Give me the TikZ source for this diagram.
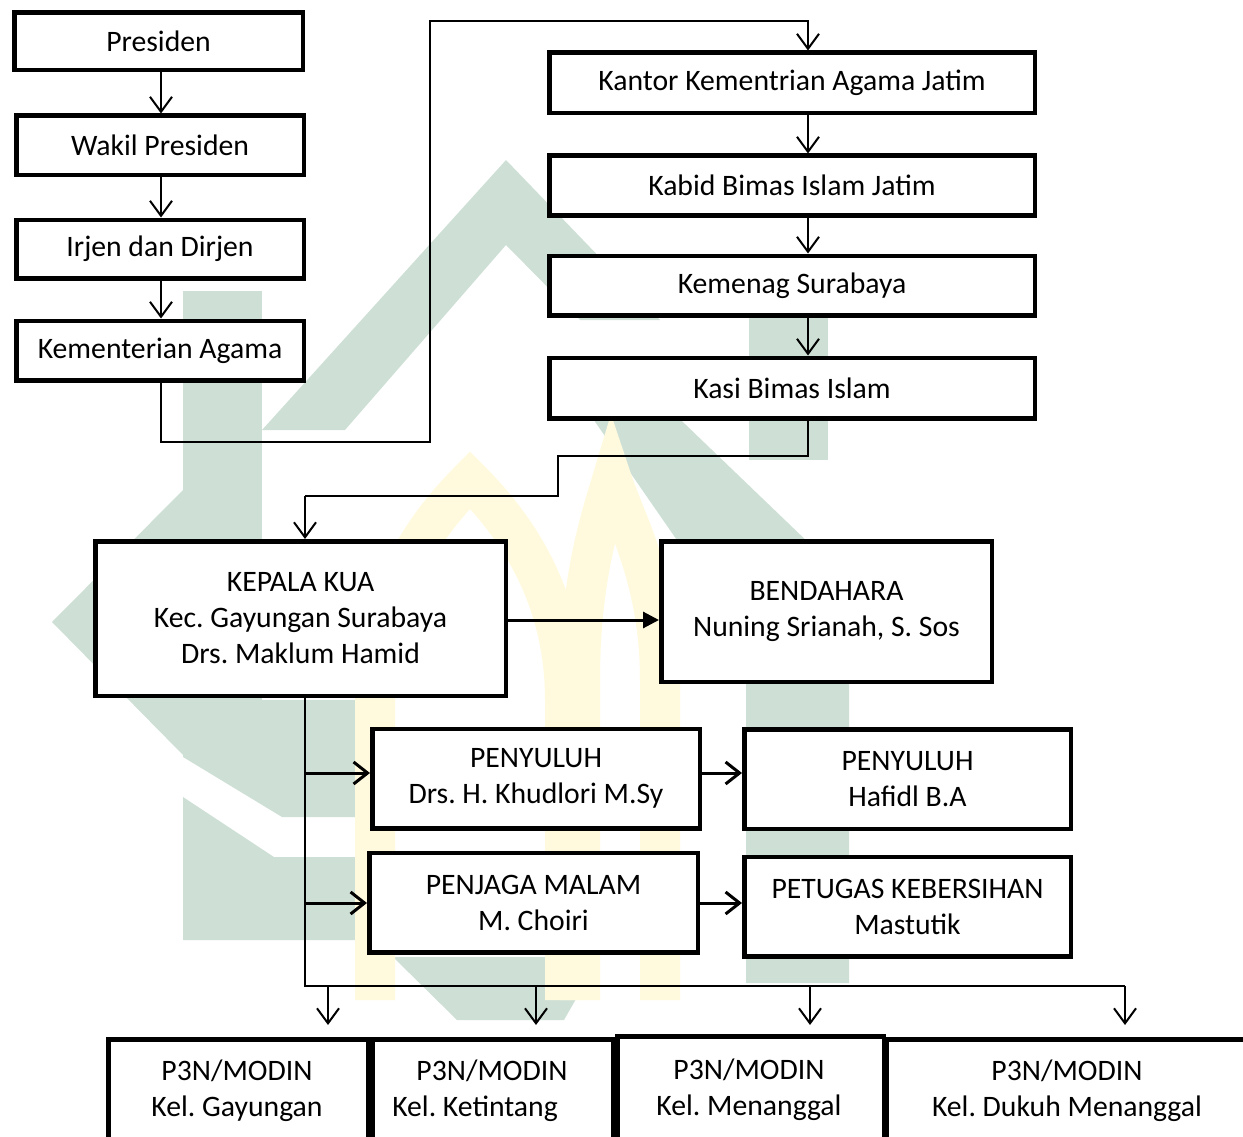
\documentclass[tikz,border=0pt]{standalone}
\usepackage{fontspec}
\setmainfont{Carlito}
\usetikzlibrary{arrows.meta}
\definecolor{wm}{RGB}{206,224,213}
\definecolor{wy}{RGB}{255,250,222}
\tikzset{
  box/.style={draw=black, line width=4.5pt, fill=white, inner sep=0pt, align=center,
    font=\fontsize{29.7}{36}\selectfont},
  txt/.style={inner sep=0pt, align=center, font=\fontsize{29.7}{36}\selectfont},
  link/.style={draw=black, line width=2pt},
  arr/.style={link, -{Straight Barb[length=15pt,width=22pt,line width=2pt]}},
  harr/.style={draw=black, line width=3pt, -{Straight Barb[length=14pt,width=22pt,line width=3pt]}},
  farr/.style={draw=black, line width=3pt, -{Triangle[length=16pt,width=16pt]}}
}
\frenchspacing
\begin{document}
\begin{tikzpicture}[x=1pt,y=-1pt]
\useasboundingbox (0,0) rectangle (1243,1137);
\clip (0,0) rectangle (1243,1137);
% watermark (approximate logo)
\fill[wm] (52,622) -- (183,490) -- (183,755) -- cycle;
\fill[wm] (183,291) rectangle (262,700);
\fill[wm] (262,430) -- (506,160) -- (660,320) -- (580,320) -- (506,245) -- (345,430) -- cycle;
\fill[wm] (580,400) -- (660,400) -- (889,620) -- (849,660) -- (849,983) -- (746,983) -- (746,640) -- cycle;
\fill[wm] (749,300) rectangle (828,460);
\fill[wm] (183,700) -- (387,700) -- (387,817) -- (282,817) -- (183,757) -- cycle;
\fill[wm] (183,797) -- (274,857) -- (387,857) -- (387,860) -- (500,860) -- (500,940) -- (183,940) -- cycle;
\fill[wm] (393,957) -- (600,957) -- (564,1020) -- (457,1020) -- cycle;
\draw[wy, line width=40pt] (375,1000) -- (375,700) .. controls (375,590) and (430,520) .. (470,480)
  .. controls (510,520) and (565,590) .. (565,700) -- (565,1000);
\draw[wy, line width=40pt] (580,1000) -- (580,680) .. controls (580,580) and (600,520) .. (612,480)
  .. controls (625,520) and (660,580) .. (660,680) -- (660,1000);
% boxes
\node[box, minimum width=288.5pt, minimum height=57.5pt] (pres) at (158.5,41.5) {Presiden};
\node[box, minimum width=287.5pt, minimum height=59.5pt] (wakil) at (160,145.5) {Wakil Presiden};
\node[box, minimum width=287.5pt, minimum height=58.5pt] (irjen) at (160,249) {Irjen dan Dirjen};
\node[box, minimum width=287.5pt, minimum height=59.5pt] (kemen) at (160,350.5) {Kementerian Agama};
\node[box, minimum width=485.5pt, minimum height=60.5pt] (kantor) at (792,83) {Kantor Kementrian Agama Jatim};
\node[box, minimum width=485.5pt, minimum height=59.5pt] (kabid) at (792,185.5) {Kabid Bimas Islam Jatim};
\node[box, minimum width=485.5pt, minimum height=59.5pt] (kemenag) at (792,285.5) {Kemenag Surabaya};
\node[box, minimum width=485.5pt, minimum height=60.5pt] (kasi) at (792,388) {Kasi Bimas Islam};
\node[box, minimum width=410.5pt, minimum height=154.5pt] (kua) at (300.5,618.5) {KEPALA KUA\\Kec. Gayungan Surabaya\\Drs. Maklum Hamid};
\node[box, minimum width=330.5pt, minimum height=140.5pt] (bend) at (826.5,611.5) {BENDAHARA\\Nuning Srianah, S. Sos};
\node[box, minimum width=327.5pt, minimum height=99.5pt] (peny1) at (536,778.5) {PENYULUH\\Drs. H. Khudlori M.Sy};
\node[box, minimum width=326.5pt, minimum height=99.5pt] (peny2) at (907.5,779) {PENYULUH\\Hafidl B.A};
\node[box, minimum width=328.5pt, minimum height=99.5pt] (jaga) at (533.5,902.5) {PENJAGA MALAM\\M. Choiri};
\node[box, minimum width=326.5pt, minimum height=99.5pt] (petugas) at (907.5,906.5) {PETUGAS KEBERSIHAN\\Mastutik};
% bottom boxes (cut by the page edge)
\node[box, minimum width=259.5pt, minimum height=200pt, anchor=north] (b1) at (238,1037) {};
\node[box, minimum width=240.5pt, minimum height=200pt, anchor=north] (b2) at (492.5,1037) {};
\node[box, minimum width=266.5pt, minimum height=200pt, anchor=north] (b3) at (750.5,1034) {};
\node[box, minimum width=362pt, minimum height=200pt, anchor=north] (b4) at (1068,1037) {};
\node[txt] (t1) at (237,1091) {P3N/MODIN\\Kel. Gayungan};
\node[txt] (t2) at (492,1091) {P3N/MODIN\\Kel. Ketintang\hspace*{34pt}};
\node[txt] (t3) at (749,1090) {P3N/MODIN\\Kel. Menanggal};
\node[txt] (t4) at (1067,1091) {P3N/MODIN\\Kel. Dukuh Menanggal};
% guide coordinates
\coordinate (ax) at (808,0);
\coordinate (lx) at (161,0);
\coordinate (k1) at (430,442);
\coordinate (k2) at (430,21);
\coordinate (q1) at (558,456);
\coordinate (q2) at (305,496);
\coordinate (t0) at (305,986);
\coordinate (tEnd) at (1125,986);
\coordinate (br1) at (305,773);
\coordinate (br2) at (305,903);
% left column arrows
\draw[arr] (pres.south -| lx) -- (wakil.north -| lx);
\draw[arr] (wakil.south -| lx) -- (irjen.north -| lx);
\draw[arr] (irjen.south -| lx) -- (kemen.north -| lx);
\draw[arr] (kemen.south -| lx) |- (k1) -- (k2) -| (kantor.north -| ax);
% right column arrows
\draw[arr] (kantor.south -| ax) -- (kabid.north -| ax);
\draw[arr] (kabid.south -| ax) -- (kemenag.north -| ax);
\draw[arr] (kemenag.south -| ax) -- (kasi.north -| ax);
\draw[link] (kasi.south -| ax) |- (q1) |- (q2);
\draw[arr] (q2) -- (kua.north -| q2);
% KUA to Bendahara
\draw[farr] (kua.east |- 0,620) -- (bend.west |- 0,620);
% trunk
\draw[link] (kua.south -| t0) -- (t0) -- (tEnd);
\draw[harr] (br1) -- (peny1.west |- br1);
\draw[harr] (br2) -- (jaga.west |- br2);
\draw[harr] (peny1.east |- br1) -- (peny2.west |- br1);
\draw[harr] (jaga.east |- br2) -- (petugas.west |- br2);
\draw[arr, shorten >=12pt] (t0 -| 328,0) -- (b1.north -| 328,0);
\draw[arr, shorten >=12pt] (t0 -| 536,0) -- (b2.north -| 536,0);
\draw[arr, shorten >=9pt] (t0 -| 810,0) -- (b3.north -| 810,0);
\draw[arr, shorten >=12pt] (tEnd) -- (b4.north -| tEnd);
\end{tikzpicture}
\end{document}
